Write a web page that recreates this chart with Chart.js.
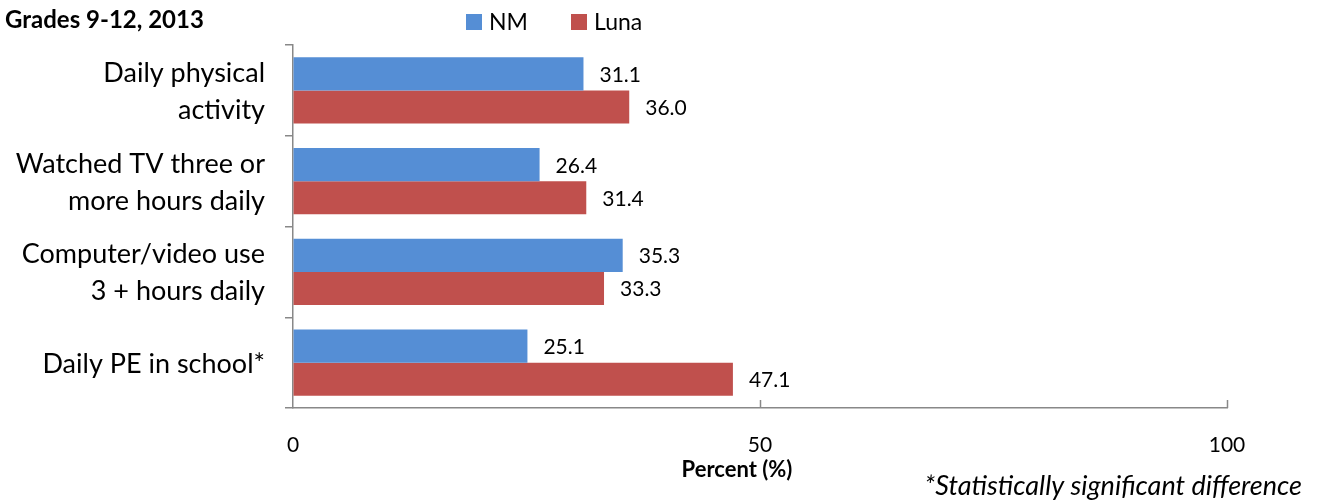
<!DOCTYPE html>
<html>
<head>
<meta charset="utf-8">
<script src="https://cdn.jsdelivr.net/npm/chart.js@4/dist/chart.umd.min.js"></script>
<style>
  body { margin: 0; background: #fff; }
  #wrap { width: 1317px; height: 500px; }
</style>
</head>
<body>
<div id="wrap"><canvas id="chart" width="1317" height="500"></canvas></div>
<script>
// categories (multi-line labels) and the two series
const categories = [
  ["Daily physical", "activity"],
  ["Watched TV three or", "more hours daily"],
  ["Computer/video use", "3 + hours daily"],
  ["Daily PE in school*"],
];
const seriesNames = ["NM", "Luna"];
const nmValues = [31.1, 26.4, 35.3, 25.1];
const lunaValues = [36.0, 31.4, 33.3, 47.1];
const xTickValues = [0, 50, 100];

const seriesColors = ["#558ED5", "#C0504D"];
const FONT = "Lato, 'Open Sans', sans-serif";
const axisGray = "#888888";

// titles, legend, category and value labels, inward x ticks
const extras = {
  id: "extras",
  afterDraw(chart) {
    const ctx = chart.ctx;
    const x = chart.scales.x;
    const y = chart.scales.y;
    ctx.save();

    // inward tick marks on the x axis
    ctx.strokeStyle = axisGray;
    ctx.lineWidth = 1.5;
    xTickValues.slice(1).forEach((v) => {
      const px = Math.round(x.getPixelForValue(v)) + 0.5;
      ctx.beginPath();
      ctx.moveTo(px, x.top);
      ctx.lineTo(px, x.top - 8);
      ctx.stroke();
    });

    ctx.fillStyle = "#000";
    ctx.textBaseline = "alphabetic";

    // category labels, right aligned next to the axis
    ctx.font = "27px " + FONT;
    ctx.textAlign = "right";
    categories.forEach((lines, i) => {
      const cy = y.getPixelForValue(i);
      lines.forEach((line, k) => {
        ctx.fillText(line, 265, cy + 10 + (k - (lines.length - 1) / 2) * 37);
      });
    });

    // value labels
    ctx.font = "21px " + FONT;
    ctx.textAlign = "left";
    chart.data.datasets.forEach((ds, i) => {
      chart.getDatasetMeta(i).data.forEach((bar, j) => {
        ctx.fillText(ds.data[j].toFixed(1), bar.x + 16, bar.y + 8);
      });
    });

    // title
    ctx.font = "bold 24px " + FONT;
    ctx.fillText("Grades 9-12, 2013", 5, 28);

    // legend
    const legendX = [466, 571];
    ctx.font = "23px " + FONT;
    seriesNames.forEach((name, i) => {
      ctx.fillStyle = seriesColors[i];
      ctx.fillRect(legendX[i], 14, 16, 16);
      ctx.fillStyle = "#000";
      ctx.fillText(name, legendX[i] + 23, 30);
    });

    // axis title
    ctx.font = "bold 22px " + FONT;
    ctx.textAlign = "center";
    ctx.fillText("Percent (%)", 737, 477);

    // footnote
    ctx.font = "italic 27px " + FONT;
    ctx.textAlign = "right";
    ctx.fillText("*Statistically significant difference", 1302, 495);

    ctx.restore();
  },
};

new Chart(document.getElementById("chart"), {
  type: "bar",
  plugins: [extras],
  data: {
    labels: categories,
    datasets: [
      { label: seriesNames[0], data: nmValues, backgroundColor: seriesColors[0] },
      { label: seriesNames[1], data: lunaValues, backgroundColor: seriesColors[1] },
    ],
  },
  options: {
    indexAxis: "y",
    responsive: false,
    animation: false,
    categoryPercentage: 0.73,
    barPercentage: 1.0,
    layout: { padding: { top: 45, right: 90, left: 0, bottom: 0 } },
    plugins: {
      legend: { display: false },
      tooltip: { enabled: false },
    },
    scales: {
      x: {
        min: 0,
        max: 100,
        afterFit: (s) => { s.height = 92; },
        afterBuildTicks: (s) => { s.ticks = xTickValues.map((v) => ({ value: v })); },
        grid: { drawOnChartArea: false, drawTicks: false },
        border: { color: axisGray, width: 1.5 },
        ticks: { color: "#000", padding: 25, font: { size: 21, family: FONT } },
      },
      y: {
        afterFit: (s) => { s.width = 293; },
        grid: { drawOnChartArea: false, tickLength: 8, color: axisGray, lineWidth: 1.5 },
        border: { color: axisGray, width: 1.5 },
        ticks: { display: false },
      },
    },
  },
});
</script>
</body>
</html>
